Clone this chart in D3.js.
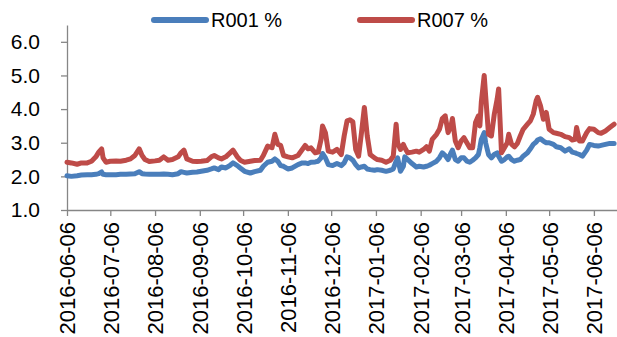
<!DOCTYPE html>
<html>
<head>
<meta charset="utf-8">
<script src="https://cdn.jsdelivr.net/npm/d3@7"></script>
<style>
  html, body { margin: 0; padding: 0; background: #fff; }
  svg text { font-family: "Liberation Sans", Arial, sans-serif; fill: #000; }
</style>
</head>
<body>
<svg id="chart" width="617" height="337"></svg>
<script>
// ---- data ----
const dates = [
  "2016-06-06","2016-06-09","2016-06-13","2016-06-16","2016-06-20","2016-06-23","2016-06-26","2016-06-28","2016-06-30","2016-07-01",
  "2016-07-03","2016-07-06","2016-07-10","2016-07-13","2016-07-17","2016-07-20","2016-07-23","2016-07-26","2016-07-28","2016-07-30",
  "2016-08-02","2016-08-06","2016-08-09","2016-08-12","2016-08-15","2016-08-18","2016-08-22","2016-08-24","2016-08-26","2016-08-28",
  "2016-09-01","2016-09-04","2016-09-07","2016-09-11","2016-09-14","2016-09-16","2016-09-19","2016-09-21","2016-09-24","2016-09-27",
  "2016-09-29","2016-10-02","2016-10-04","2016-10-07","2016-10-11","2016-10-14","2016-10-18","2016-10-20","2016-10-23","2016-10-26",
  "2016-10-28","2016-10-30","2016-11-01","2016-11-03","2016-11-06","2016-11-09","2016-11-13","2016-11-16","2016-11-18","2016-11-20",
  "2016-11-22","2016-11-25","2016-11-27","2016-11-29","2016-11-30","2016-12-02","2016-12-04","2016-12-07","2016-12-10","2016-12-13",
  "2016-12-15","2016-12-17","2016-12-19","2016-12-21","2016-12-23","2016-12-25","2016-12-27","2016-12-29","2016-12-31","2017-01-02",
  "2017-01-05","2017-01-07","2017-01-10","2017-01-13","2017-01-16","2017-01-18","2017-01-20","2017-01-21","2017-01-23","2017-01-25",
  "2017-01-26","2017-01-28","2017-01-31","2017-02-03","2017-02-05","2017-02-08","2017-02-10","2017-02-12","2017-02-14","2017-02-17",
  "2017-02-19","2017-02-21","2017-02-23","2017-02-25","2017-02-27","2017-02-28","2017-03-02","2017-03-04","2017-03-06","2017-03-08",
  "2017-03-10","2017-03-12","2017-03-14","2017-03-16","2017-03-18","2017-03-19","2017-03-20","2017-03-22","2017-03-23","2017-03-25",
  "2017-03-27","2017-03-29","2017-03-31","2017-04-01","2017-04-03","2017-04-05","2017-04-07","2017-04-08","2017-04-10","2017-04-12",
  "2017-04-14","2017-04-16","2017-04-18","2017-04-21","2017-04-23","2017-04-25","2017-04-27","2017-04-28","2017-04-30","2017-05-02",
  "2017-05-04","2017-05-06","2017-05-09","2017-05-11","2017-05-14","2017-05-17","2017-05-20","2017-05-22","2017-05-24","2017-05-25",
  "2017-05-27","2017-05-29","2017-06-01","2017-06-03","2017-06-06","2017-06-09","2017-06-11","2017-06-14","2017-06-17","2017-06-20"
];

const r001 = [
  2.02,2.00,2.02,2.04,2.05,2.05,2.06,2.08,2.13,2.06,
  2.05,2.05,2.05,2.06,2.06,2.07,2.08,2.14,2.08,2.07,
  2.06,2.06,2.06,2.07,2.06,2.05,2.08,2.14,2.12,2.10,
  2.12,2.13,2.15,2.18,2.22,2.25,2.20,2.28,2.25,2.33,
  2.40,2.32,2.25,2.15,2.10,2.14,2.18,2.30,2.42,2.45,
  2.52,2.45,2.32,2.30,2.22,2.25,2.35,2.40,2.40,2.38,
  2.42,2.43,2.45,2.55,2.68,2.55,2.35,2.32,2.38,2.32,
  2.40,2.58,2.55,2.48,2.35,2.25,2.28,2.30,2.22,2.20,
  2.18,2.20,2.18,2.15,2.18,2.22,2.45,2.55,2.15,2.30,
  2.58,2.50,2.38,2.28,2.30,2.28,2.30,2.33,2.38,2.45,
  2.55,2.70,2.62,2.50,2.70,2.78,2.50,2.45,2.55,2.55,
  2.45,2.42,2.48,2.55,2.65,2.85,3.10,3.30,3.00,2.65,
  2.55,2.65,2.70,2.60,2.45,2.50,2.58,2.60,2.50,2.45,
  2.48,2.50,2.60,2.70,2.82,2.95,3.02,3.08,3.12,3.05,
  3.00,3.00,2.95,2.88,2.85,2.75,2.82,2.72,2.70,2.68,
  2.65,2.60,2.78,2.95,2.92,2.90,2.92,2.95,2.98,2.98
];

const r007 = [
  2.42,2.40,2.36,2.40,2.40,2.45,2.58,2.72,2.82,2.55,
  2.42,2.45,2.46,2.45,2.48,2.52,2.62,2.82,2.62,2.50,
  2.44,2.46,2.48,2.58,2.48,2.50,2.58,2.70,2.78,2.52,
  2.45,2.44,2.45,2.47,2.58,2.62,2.55,2.52,2.58,2.70,
  2.78,2.58,2.48,2.42,2.45,2.47,2.48,2.62,2.90,2.85,
  3.25,2.95,2.92,2.62,2.58,2.55,2.62,2.80,2.92,2.82,
  2.85,2.70,2.72,3.10,3.50,3.30,2.75,2.72,2.80,2.65,
  3.20,3.65,3.68,3.62,2.80,2.60,3.30,4.05,3.20,2.65,
  2.55,2.50,2.48,2.42,2.48,2.60,3.55,3.00,2.80,2.95,
  2.85,2.70,2.72,2.75,2.72,2.80,2.88,2.75,3.10,3.25,
  3.40,3.72,3.80,3.30,3.50,3.72,3.05,2.85,3.05,3.15,
  3.00,2.85,2.85,3.60,3.80,3.50,4.20,5.00,4.40,3.25,
  3.20,3.85,4.30,4.60,2.70,2.85,3.00,3.25,2.95,2.88,
  2.98,3.20,3.40,3.55,3.65,3.85,4.25,4.35,4.10,3.70,
  3.90,3.40,3.30,3.28,3.25,3.18,3.15,3.08,3.10,3.45,
  3.05,3.05,3.30,3.42,3.40,3.30,3.28,3.35,3.45,3.55
];

const seriesNames = ["R001 %", "R007 %"];
const seriesColors = ["#4A7EBB", "#BE4B48"];
const xTickLabels = ["2016-06-06","2016-07-06","2016-08-06","2016-09-06","2016-10-06","2016-11-06",
  "2016-12-06","2017-01-06","2017-02-06","2017-03-06","2017-04-06","2017-05-06","2017-06-06"];
const yTicks = [1, 2, 3, 4, 5, 6];

// ---- chart ----
(function () {
const parse = d3.timeParse("%Y-%m-%d");
const svg = d3.select("#chart");
const plotLeft = 67, plotRight = 617, plotTop = 25, plotBottom = 210;
const axisColor = "#868686";

const x = d3.scaleTime()
  .domain([parse("2016-06-06"), parse("2017-06-22")])
  .range([plotLeft, plotRight]);
const y = d3.scaleLinear().domain([1, 6.5]).range([plotBottom, plotTop]);

// axes
const xAxis = d3.axisBottom(x)
  .tickValues(xTickLabels.map(parse))
  .tickSize(6).tickSizeOuter(0)
  .tickFormat(d3.timeFormat("%Y-%m-%d"));
const gx = svg.append("g").attr("transform", `translate(0,${plotBottom})`).call(xAxis);
gx.select(".domain").attr("stroke", axisColor).attr("stroke-width", 1.3);
gx.selectAll(".tick line").attr("stroke", axisColor).attr("stroke-width", 1.3);
gx.selectAll(".tick text")
  .attr("transform", "rotate(-90)")
  .attr("x", -12).attr("y", 0).attr("dy", "0.36em")
  .attr("text-anchor", "end")
  .style("font-size", "22px")
  .style("font-family", "'Liberation Sans', Arial, sans-serif")
  .attr("fill", "#000");

const yAxis = d3.axisLeft(y).tickValues(yTicks).tickSize(6).tickSizeOuter(0)
  .tickPadding(21).tickFormat(d3.format(".1f"));
const gy = svg.append("g").attr("transform", `translate(${plotLeft},0)`).call(yAxis);
gy.select(".domain").attr("stroke", axisColor).attr("stroke-width", 1.3);
gy.selectAll(".tick line").attr("stroke", axisColor).attr("stroke-width", 1.3);
gy.selectAll(".tick text")
  .style("font-size", "21px")
  .style("font-family", "'Liberation Sans', Arial, sans-serif")
  .attr("fill", "#000");

// lines
const pts = [r001, r007].map(vals => dates.map((d, i) => ({ date: parse(d), v: vals[i] })));
const line = d3.line().x(d => x(d.date)).y(d => y(d.v));
svg.append("g").selectAll("path.series")
  .data(pts)
  .join("path")
  .attr("class", "series")
  .attr("d", line)
  .attr("fill", "none")
  .attr("stroke", (d, i) => seriesColors[i])
  .attr("stroke-width", 5)
  .attr("stroke-linejoin", "round")
  .attr("stroke-linecap", "round");

// legend
const legendX = [152, 358];
const lg = svg.append("g").selectAll("g").data(seriesNames).join("g")
  .attr("transform", (d, i) => `translate(${legendX[i]},20)`);
lg.append("line").attr("x1", 2).attr("x2", 54).attr("y1", 0).attr("y2", 0)
  .attr("stroke", (d, i) => seriesColors[i]).attr("stroke-width", 6).attr("stroke-linecap", "round");
lg.append("text").attr("x", 59).attr("y", 0).attr("dy", "0.36em")
  .style("font-size", "20px").text(d => d);
})();
</script>
</body>
</html>
